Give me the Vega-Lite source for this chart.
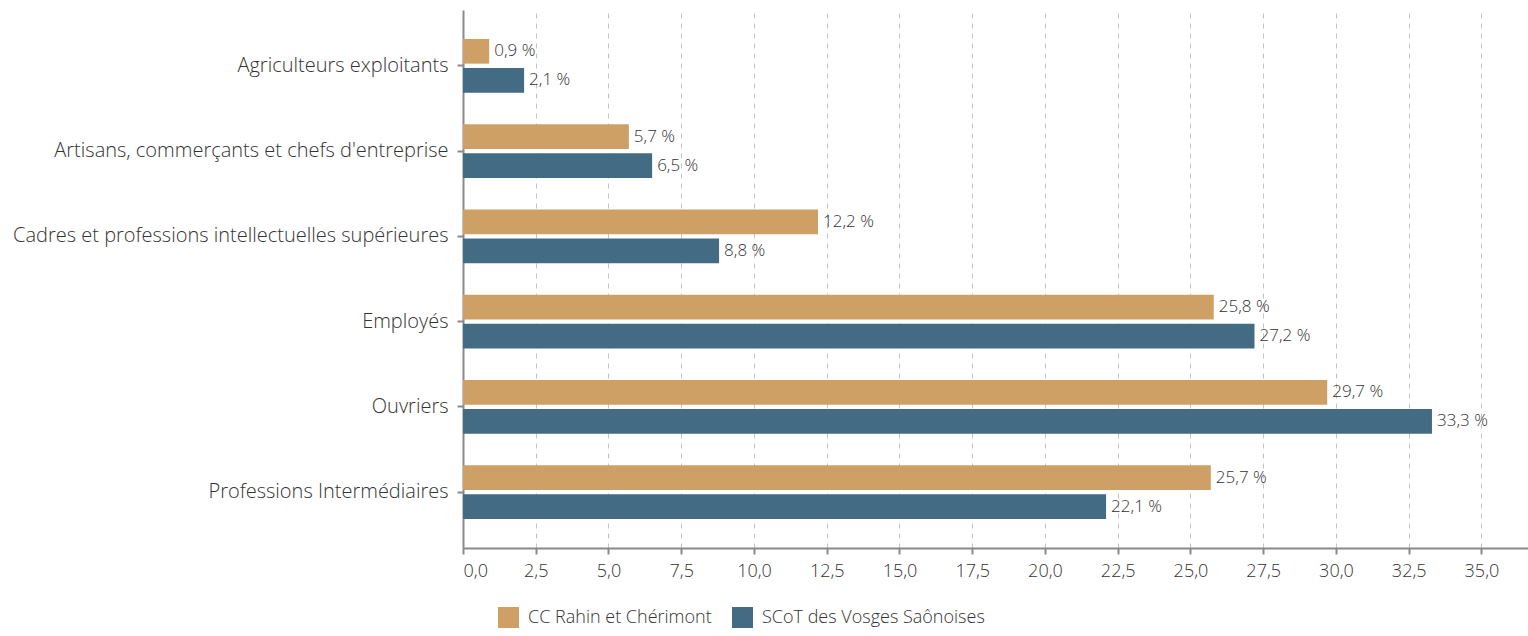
{
  "$schema": "https://vega.github.io/schema/vega-lite/v6.json",
  "autosize": {"type": "none"},
  "padding": {"left": 463, "top": 10, "right": 0, "bottom": 88},
  "width": 1065,
  "height": 538,
  "background": "white",
  "config": {
    "font": "Open Sans",
    "view": {"stroke": null},
    "text": {"font": "Open Sans"}
  },
  "data": {
    "values": [
      {"cat": "Agriculteurs exploitants", "serie": "CC Rahin et Chérimont", "v": 0.9},
      {"cat": "Agriculteurs exploitants", "serie": "SCoT des Vosges Saônoises", "v": 2.1},
      {"cat": "Artisans, commerçants et chefs d'entreprise", "serie": "CC Rahin et Chérimont", "v": 5.7},
      {"cat": "Artisans, commerçants et chefs d'entreprise", "serie": "SCoT des Vosges Saônoises", "v": 6.5},
      {"cat": "Cadres et professions intellectuelles supérieures", "serie": "CC Rahin et Chérimont", "v": 12.2},
      {"cat": "Cadres et professions intellectuelles supérieures", "serie": "SCoT des Vosges Saônoises", "v": 8.8},
      {"cat": "Employés", "serie": "CC Rahin et Chérimont", "v": 25.8},
      {"cat": "Employés", "serie": "SCoT des Vosges Saônoises", "v": 27.2},
      {"cat": "Ouvriers", "serie": "CC Rahin et Chérimont", "v": 29.7},
      {"cat": "Ouvriers", "serie": "SCoT des Vosges Saônoises", "v": 33.3},
      {"cat": "Professions Intermédiaires", "serie": "CC Rahin et Chérimont", "v": 25.7},
      {"cat": "Professions Intermédiaires", "serie": "SCoT des Vosges Saônoises", "v": 22.1}
    ]
  },
  "transform": [
    {"calculate": "replace(format(datum.v, '.1f'), '.', ',') + ' %'", "as": "lbl"}
  ],
  "encoding": {
    "y": {
      "field": "cat", "type": "nominal", "sort": null, "title": null,
      "scale": {"paddingInner": 0.371, "paddingOuter": 0.34},
      "axis": {
        "domainColor": "#8a8a8a", "domainWidth": 2,
        "tickColor": "#8a8a8a", "tickWidth": 2, "tickSize": 6,
        "labelFontSize": 20, "labelColor": "#333333", "labelPadding": 9,
        "labelFont": "Open Sans", "labelFontWeight": 300, "labelLimit": 500
      }
    },
    "yOffset": {
      "field": "serie", "type": "nominal",
      "scale": {"paddingInner": 0.15, "paddingOuter": 0}
    },
    "x": {
      "field": "v", "type": "quantitative", "title": null,
      "scale": {"domain": [0, 36.6], "nice": false, "zero": true},
      "axis": {
        "values": [0, 2.5, 5, 7.5, 10, 12.5, 15, 17.5, 20, 22.5, 25, 27.5, 30, 32.5, 35],
        "labelExpr": "replace(format(datum.value, '.1f'), '.', ',')",
        "domainColor": "#8a8a8a", "domainWidth": 2,
        "tickColor": "#8a8a8a", "tickWidth": 2, "tickSize": 6,
        "grid": true, "gridDash": [5, 5], "gridColor": "#c4c4c4", "gridWidth": 1,
        "labelFontSize": 18, "labelColor": "#333333", "labelPadding": 8,
        "labelFont": "Open Sans", "labelFontWeight": 300
      }
    }
  },
  "layer": [
    {
      "mark": {"type": "bar"},
      "encoding": {
        "color": {
          "field": "serie", "type": "nominal", "title": null,
          "scale": {"domain": ["CC Rahin et Chérimont", "SCoT des Vosges Saônoises"], "range": ["#CFA065", "#446B84"]},
          "legend": {
            "orient": "none", "direction": "horizontal",
            "legendX": 35, "legendY": 597,
            "symbolType": "square", "symbolSize": 441, "symbolStrokeWidth": 0,
            "symbolOpacity": 1,
            "labelFontSize": 18, "labelColor": "#333333", "labelFont": "Open Sans", "labelFontWeight": 300,
            "columnPadding": 20, "labelOffset": 9, "labelLimit": 400
          }
        }
      }
    },
    {
      "mark": {"type": "text", "align": "left", "baseline": "middle", "dx": 5, "fontSize": 17, "fontWeight": 300, "color": "#333333"},
      "encoding": {"text": {"field": "lbl"}}
    }
  ]
}
